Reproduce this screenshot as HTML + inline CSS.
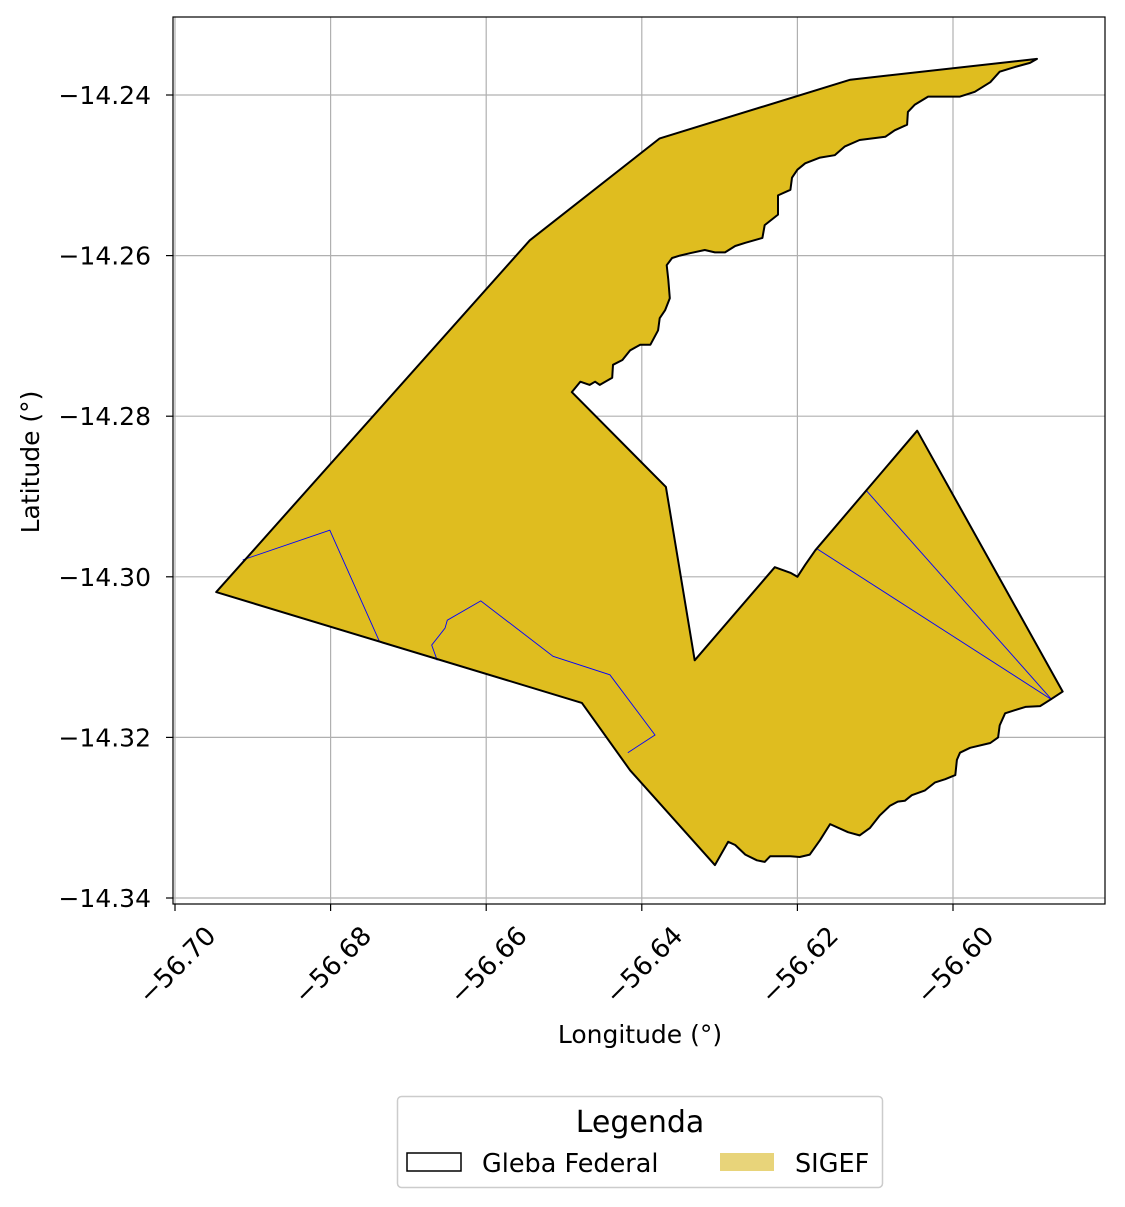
<!DOCTYPE html>
<html><head><meta charset="utf-8"><style>
body{margin:0;background:#fff;}
svg{display:block;font-family:"DejaVu Sans","Liberation Sans",sans-serif;}
</style></head><body>
<svg id="chart" width="1125" height="1207" viewBox="0 0 1125 1207">
<rect width="1125" height="1207" fill="#fff"/>
<g id="grid"></g>
<g id="shapes"></g>
<rect x="173" y="17" width="932" height="887" fill="none" stroke="#000" stroke-width="1.2"/>
<g id="ticks"></g>
<text x="640" y="1043" style="font-size:25px" text-anchor="middle">Longitude (°)</text>
<text transform="translate(39,462) rotate(-90)" style="font-size:25px" text-anchor="middle">Latitude (°)</text>
<g>
<rect x="397.5" y="1096.5" width="485" height="91" rx="4" fill="#fff" stroke="#ccc" stroke-width="1.5"/>
<text x="640" y="1132" style="font-size:30px" text-anchor="middle">Legenda</text>
<g><rect x="407" y="1153" width="54" height="18" fill="none" stroke="#000" stroke-width="1.5"/><text x="482" y="1172" style="font-size:25.5px">Gleba Federal</text></g>
<g><rect x="720" y="1153" width="54" height="18" fill="#e8d47a"/><text x="795" y="1172" style="font-size:25.5px">SIGEF</text></g>
</g>
</svg>
<script>
const xTicks=[-56.70,-56.68,-56.66,-56.64,-56.62,-56.60];
const yTicks=[-14.24,-14.26,-14.28,-14.30,-14.32,-14.34];
const outlineLon=[-56.6947,-56.6544,-56.6377,-56.6132,-56.5892,-56.5901,-56.5920,-56.5940,-56.5952,-56.5972,-56.5991,-56.6017,-56.6032,-56.6049,-56.6058,-56.6059,-56.6075,-56.6087,-56.6120,-56.6139,-56.6152,-56.6171,-56.6190,-56.6200,-56.6207,-56.6209,-56.6225,-56.6225,-56.6242,-56.6245,-56.6267,-56.6280,-56.6293,-56.6306,-56.6319,-56.6338,-56.6351,-56.6361,-56.6368,-56.6366,-56.6364,-56.6370,-56.6377,-56.6379,-56.6389,-56.6402,-56.6415,-56.6425,-56.6437,-56.6438,-56.6454,-56.6460,-56.6467,-56.6479,-56.6490,-56.6369,-56.6332,-56.6229,-56.6209,-56.6200,-56.6190,-56.6177,-56.6046,-56.5859,-56.5875,-56.5888,-56.5907,-56.5920,-56.5933,-56.5940,-56.5942,-56.5952,-56.5978,-56.5991,-56.5995,-56.5997,-56.6010,-56.6023,-56.6036,-56.6053,-56.6062,-56.6071,-56.6081,-56.6094,-56.6107,-56.6120,-56.6135,-56.6158,-56.6171,-56.6184,-56.6197,-56.6209,-56.6235,-56.6242,-56.6252,-56.6267,-56.6280,-56.6289,-56.6306,-56.6415,-56.6477];
const outlineLat=[-14.3019,-14.2581,-14.2454,-14.2381,-14.2355,-14.2360,-14.2365,-14.2371,-14.2384,-14.2396,-14.2402,-14.2402,-14.2402,-14.2412,-14.2421,-14.2437,-14.2444,-14.2452,-14.2456,-14.2464,-14.2475,-14.2478,-14.2485,-14.2493,-14.2503,-14.2518,-14.2525,-14.2549,-14.2562,-14.2578,-14.2584,-14.2588,-14.2596,-14.2596,-14.2593,-14.2597,-14.2600,-14.2603,-14.2612,-14.2630,-14.2653,-14.2668,-14.2678,-14.2693,-14.2711,-14.2711,-14.2718,-14.2730,-14.2736,-14.2752,-14.2761,-14.2757,-14.2761,-14.2757,-14.2770,-14.2888,-14.3104,-14.2988,-14.2995,-14.3000,-14.2985,-14.2967,-14.2818,-14.3143,-14.3153,-14.3161,-14.3162,-14.3166,-14.3170,-14.3185,-14.3200,-14.3207,-14.3213,-14.3219,-14.3228,-14.3247,-14.3252,-14.3256,-14.3266,-14.3272,-14.3279,-14.3280,-14.3285,-14.3297,-14.3313,-14.3322,-14.3318,-14.3308,-14.3328,-14.3346,-14.3349,-14.3348,-14.3348,-14.3355,-14.3353,-14.3346,-14.3334,-14.3330,-14.3359,-14.3241,-14.3157];
const parcelLon=[[-56.6913,-56.6801,-56.6737],[-56.6663,-56.6670,-56.6653,-56.6650,-56.6607,-56.6514,-56.6441,-56.6383,-56.6418],[-56.6112,-56.5873],[-56.6175,-56.5873]];
const parcelLat=[[-14.2979,-14.2942,-14.3081],[-14.3104,-14.3085,-14.3064,-14.3054,-14.3030,-14.3099,-14.3122,-14.3197,-14.3219],[-14.2892,-14.3153],[-14.2965,-14.3153]];
const X=v=>175+(v+56.70)*7780;
const Y=v=>95-(v+14.24)*8030;
const NS='http://www.w3.org/2000/svg';
function mk(t,a,p){const e=document.createElementNS(NS,t);for(const k in a)e.setAttribute(k,a[k]);p.appendChild(e);return e;}
const grid=document.getElementById('grid'),ticks=document.getElementById('ticks'),shapes=document.getElementById('shapes');
const fmt=v=>'\u2212'+Math.abs(v).toFixed(2);
xTicks.forEach(v=>{const x=X(v);
 const g=mk('line',{x1:x,x2:x,y1:17,y2:904,stroke:'#b0b0b0','stroke-width':1.2},grid);
 
 
 mk('line',{x1:x,x2:x,y1:904,y2:911,stroke:'#000','stroke-width':1.2},ticks);
 const t=mk('text',{transform:`translate(${x+2},${965}) rotate(-45)`,x:0,y:9,style:'font-size:26px','text-anchor':'middle'},ticks);
 t.textContent=fmt(v);
 
 
});
yTicks.forEach(v=>{const y=Y(v);
 const g=mk('line',{x1:173,x2:1105,y1:y,y2:y,stroke:'#b0b0b0','stroke-width':1.2},grid);
 
 
 mk('line',{x1:166,x2:173,y1:y,y2:y,stroke:'#000','stroke-width':1.2},ticks);
 const t=mk('text',{x:151,y:y+9,style:'font-size:25px','text-anchor':'end'},ticks);
 t.textContent=fmt(v);
 
 
});
const pts=outlineLon.map((v,i)=>X(v).toFixed(1)+','+Y(outlineLat[i]).toFixed(1)).join(' ');
const poly=mk('polygon',{points:pts,fill:'#dfbd1f',stroke:'none'},shapes);


parcelLon.forEach((ar,j)=>{
 const l=mk('polyline',{points:ar.map((v,i)=>X(v).toFixed(1)+','+Y(parcelLat[j][i]).toFixed(1)).join(' '),fill:'none',stroke:'#0000ff','stroke-width':0.9},shapes);
 
 
});
const ol=mk('polygon',{points:pts,fill:'none',stroke:'#000','stroke-width':2,'stroke-linejoin':'round'},shapes);


</script>
</body></html>
